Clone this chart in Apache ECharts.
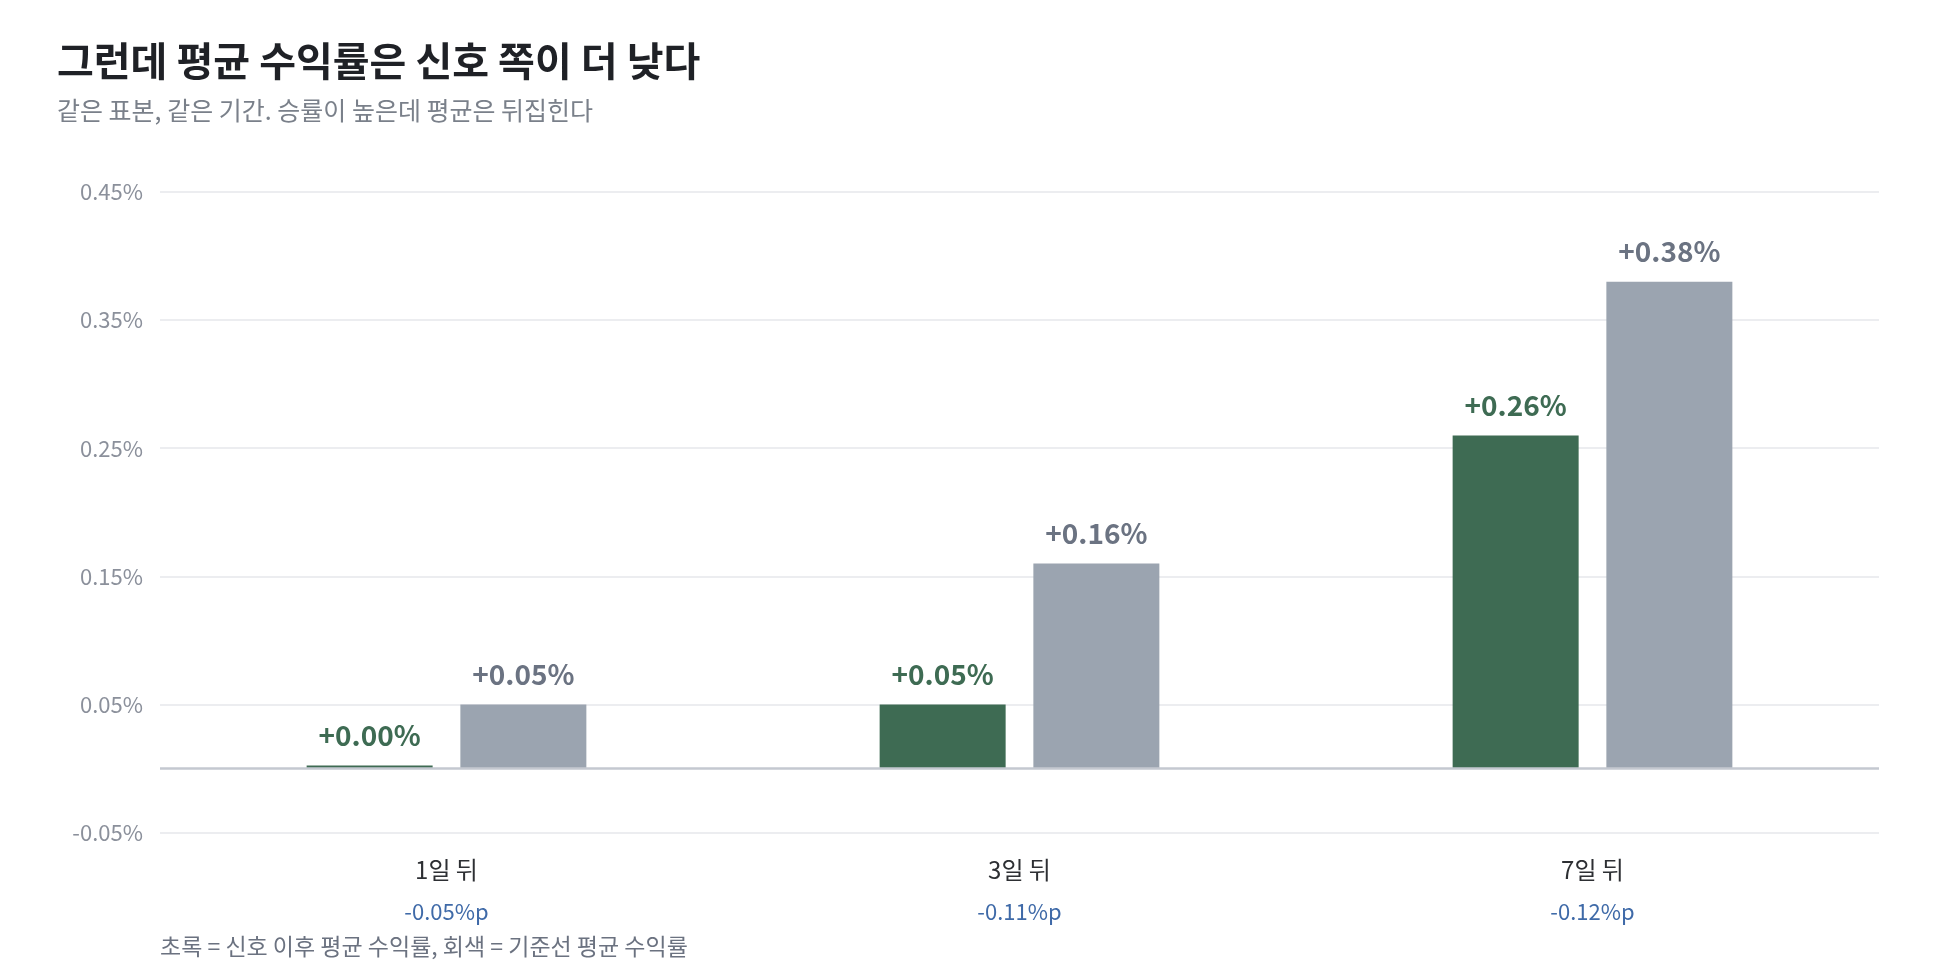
<!DOCTYPE html>
<html>
<head>
<meta charset="utf-8">
<script src="https://cdn.jsdelivr.net/npm/echarts@6/dist/echarts.min.js"></script>
<style>
  html, body { margin: 0; padding: 0; background: #fff; }
  #chart { width: 1960px; height: 960px; }
</style>
</head>
<body>
<div id="chart"></div>
<script>
// 데이터
const categories = ['1일 뒤', '3일 뒤', '7일 뒤'];
const signalReturn = [0.00, 0.05, 0.26];    // 초록: 신호 이후 평균 수익률
const baselineReturn = [0.05, 0.16, 0.38];  // 회색: 기준선 평균 수익률
const gapLabels = ['-0.05%p', '-0.11%p', '-0.12%p'];

const TITLE = '그런데 평균 수익률은 신호 쪽이 더 낮다';
const SUBTITLE = '같은 표본, 같은 기간. 승률이 높은데 평균은 뒤집힌다';
const NOTE = '초록 = 신호 이후 평균 수익률, 회색 = 기준선 평균 수익률';

const FONT = '"Noto Sans CJK KR", "Noto Sans", sans-serif';
const GREEN = '#3e6b53';
const GREY = '#9ba4b0';

const chart = echarts.init(document.getElementById('chart'));

const pct = v => (v >= 0 ? '+' : '') + v.toFixed(2) + '%';

const option = {
    backgroundColor: '#fff',
    textStyle: { fontFamily: FONT },
    title: [
        {
            text: TITLE, left: 57, top: 41, padding: 0,
            textStyle: { fontFamily: FONT, fontSize: 40, fontWeight: 700, color: '#1f2126', lineHeight: 40 }
        },
        {
            text: SUBTITLE, left: 57, top: 98, padding: 0,
            textStyle: { fontFamily: FONT, fontSize: 25, fontWeight: 400, color: '#7a808a', lineHeight: 25 }
        },
        {
            text: NOTE, left: 160, top: 935, padding: 0,
            textStyle: { fontFamily: FONT, fontSize: 23, fontWeight: 400, color: '#6b7280', lineHeight: 23 }
        }
    ],
    grid: { left: 160, right: 81, top: 192, bottom: 127.5, outerBoundsMode: 'none' },
    xAxis: {
        type: 'category',
        data: categories,
        axisLine: { show: false },
        axisTick: { show: false },
        axisLabel: {
            margin: 17,
            formatter: (v, i) => '{a|' + v + '}\n{b|' + gapLabels[i] + '}',
            rich: {
                a: { fontFamily: FONT, fontSize: 24, color: '#2d2f33', lineHeight: 40 },
                b: { fontFamily: FONT, fontSize: 22, color: '#3f6aa8', lineHeight: 44 }
            }
        }
    },
    yAxis: {
        type: 'value',
        min: -0.05,
        max: 0.45,
        interval: 0.1,
        axisLine: { show: false },
        axisTick: { show: false },
        splitLine: { lineStyle: { color: '#e6e7eb', width: 1.5 } },
        axisLabel: {
            margin: 17,
            fontFamily: FONT,
            fontSize: 22,
            color: '#8b909b',
            formatter: v => v.toFixed(2) + '%'
        }
    },
    series: [
        {
            name: '신호',
            type: 'bar',
            data: signalReturn,
            barWidth: 126,
            barGap: '22%',
            barMinHeight: 3,
            itemStyle: { color: GREEN },
            label: {
                show: true,
                position: 'top',
                distance: 16,
                fontFamily: FONT,
                fontSize: 28,
                fontWeight: 700,
                color: GREEN,
                formatter: p => pct(p.value)
            }
        },
        {
            name: '기준선',
            type: 'bar',
            data: baselineReturn,
            barWidth: 126,
            itemStyle: { color: GREY },
            label: {
                show: true,
                position: 'top',
                distance: 16,
                fontFamily: FONT,
                fontSize: 28,
                fontWeight: 700,
                color: '#6b7382',
                formatter: p => pct(p.value)
            },
            markLine: {
                silent: true,
                symbol: 'none',
                label: { show: false },
                lineStyle: { color: '#c4c8d0', width: 2.5, type: 'solid' },
                data: [{ yAxis: 0 }]
            }
        }
    ]
};

chart.setOption(option);
window.addEventListener('resize', () => chart.resize());
</script>
</body>
</html>
